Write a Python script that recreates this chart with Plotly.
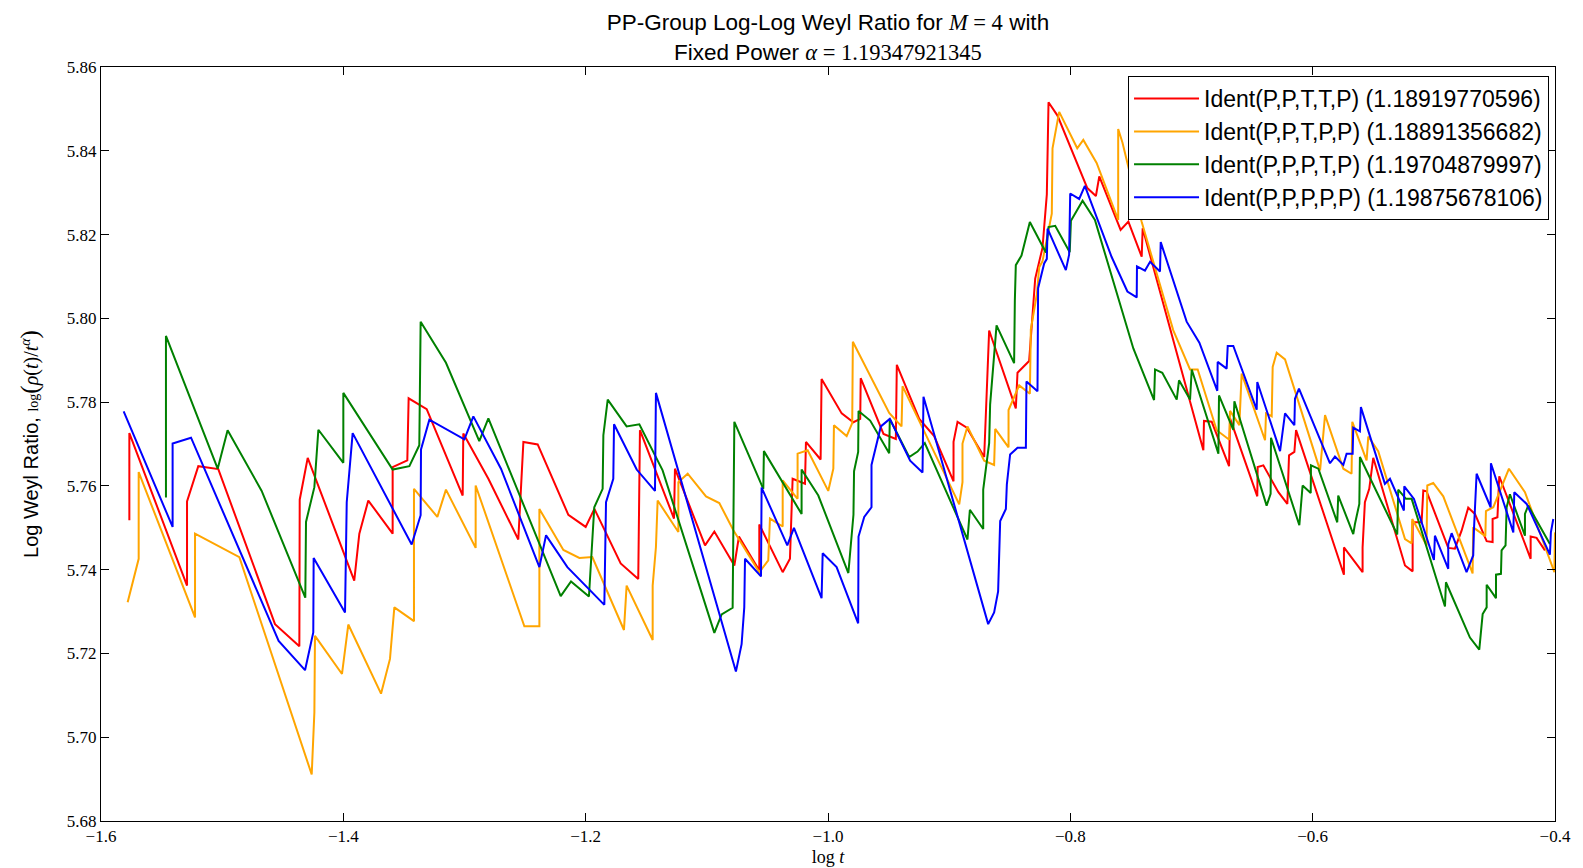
import plotly.graph_objects as go

# %% data (x = log t, y = log Weyl ratio)
red_x = [-1.5766, -1.5766, -1.5290, -1.5290, -1.5197, -1.5032, -1.4564, -1.4363, -1.4360, -1.4294,
         -1.3910, -1.3868, -1.3794, -1.3593, -1.3593, -1.3472, -1.3461, -1.3312, -1.3015, -1.3010,
         -1.2803, -1.2556, -1.2514, -1.2396, -1.2143, -1.2000, -1.1928, -1.1711, -1.1566, -1.1552,
         -1.1271, -1.1263, -1.1015, -1.0938, -1.0773, -1.0735, -1.0567, -1.0567, -1.0374, -1.0314,
         -1.0292, -1.0190, -1.0182, -1.0061, -1.0053, -0.9887, -0.9791, -0.9734, -0.9730, -0.9542,
         -0.9440, -0.9432, -0.9247, -0.9124, -0.8964, -0.8964, -0.8931, -0.8854, -0.8711, -0.8692,
         -0.8670, -0.8450, -0.8436, -0.8340, -0.8290, -0.8230, -0.8194, -0.8180, -0.8106, -0.7860,
         -0.7789, -0.7761, -0.7585, -0.7521, -0.7411, -0.7403, -0.6902, -0.6897, -0.6833, -0.6690,
         -0.6682, -0.6457, -0.6454, -0.6407, -0.6283, -0.6209, -0.6195, -0.6151, -0.6137, -0.5742,
         -0.5742, -0.5588, -0.5588, -0.5569, -0.5533, -0.5500, -0.5238, -0.5175, -0.5175, -0.5101,
         -0.5087, -0.5060, -0.4881, -0.4826, -0.4771, -0.4716, -0.4661, -0.4564, -0.4515, -0.4515,
         -0.4475, -0.4460, -0.4201, -0.4201, -0.4152, -0.4083]
red_y = [5.7518, 5.7726, 5.7362, 5.7563, 5.7647, 5.7640, 5.7270, 5.7217, 5.7567, 5.7667,
         5.7374, 5.7486, 5.7565, 5.7486, 5.7645, 5.7661, 5.7809, 5.7783, 5.7577, 5.7725,
         5.7617, 5.7472, 5.7705, 5.7699, 5.7531, 5.7502, 5.7545, 5.7415, 5.7378, 5.7733,
         5.7522, 5.7641, 5.7458, 5.7491, 5.7410, 5.7479, 5.7398, 5.7508, 5.7394, 5.7426,
         5.7617, 5.7605, 5.7705, 5.7663, 5.7855, 5.7773, 5.7752, 5.7760, 5.7857, 5.7724,
         5.7712, 5.7889, 5.7760, 5.7719, 5.7611, 5.7705, 5.7753, 5.7739, 5.7669, 5.7829,
         5.7971, 5.7785, 5.7870, 5.7898, 5.8095, 5.8168, 5.8296, 5.8516, 5.8484, 5.8311,
         5.8292, 5.8339, 5.8211, 5.8231, 5.8147, 5.8215, 5.7685, 5.7755, 5.7753, 5.7647,
         5.7761, 5.7575, 5.7645, 5.7649, 5.7585, 5.7557, 5.7673, 5.7681, 5.7733, 5.7388,
         5.7453, 5.7394, 5.7453, 5.7561, 5.7593, 5.7667, 5.7410, 5.7396, 5.7513, 5.7513,
         5.7589, 5.7587, 5.7452, 5.7450, 5.7493, 5.7548, 5.7533, 5.7468, 5.7466, 5.7521,
         5.7525, 5.7623, 5.7426, 5.7479, 5.7476, 5.7446]

orange_x = [-1.5780, -1.5689, -1.5689, -1.5224, -1.5224, -1.4858, -1.4261, -1.4239, -1.4234, -1.4011,
            -1.3959, -1.3689, -1.3615, -1.3579, -1.3417, -1.3417, -1.3224, -1.3153, -1.2908, -1.2908,
            -1.2506, -1.2382, -1.2382, -1.2184, -1.2052, -1.1945, -1.1684, -1.1662, -1.1447, -1.1447,
            -1.1420, -1.1406, -1.1235, -1.1235, -1.1158, -1.1007, -1.0897, -1.0781, -1.0567, -1.0493,
            -1.0479, -1.0374, -1.0374, -1.0251, -1.0251, -1.0168, -0.9998, -0.9956, -0.9951, -0.9846,
            -0.9800, -0.9795, -0.9495, -0.9393, -0.9385, -0.8917, -0.8890, -0.8890, -0.8849, -0.8711,
            -0.8629, -0.8620, -0.8510, -0.8510, -0.8422, -0.8334, -0.8326, -0.8276, -0.8257, -0.8230,
            -0.8153, -0.8147, -0.8092, -0.7943, -0.7893, -0.7783, -0.7605, -0.7605, -0.7570, -0.7412,
            -0.7151, -0.7012, -0.6949, -0.6792, -0.6688, -0.6682, -0.6605, -0.6586, -0.6393, -0.6385,
            -0.6338, -0.6330, -0.6297, -0.6228, -0.5939, -0.5898, -0.5747, -0.5679, -0.5673, -0.5555,
            -0.5541, -0.5459, -0.5238, -0.5183, -0.5178, -0.5060, -0.5054, -0.5005, -0.4922, -0.4680,
            -0.4675, -0.4575, -0.4570, -0.4509, -0.4380, -0.4248, -0.4005, -0.4000]
orange_y = [5.7322, 5.7426, 5.7633, 5.7286, 5.7486, 5.7430, 5.6911, 5.7059, 5.7242, 5.7151,
            5.7269, 5.7104, 5.7187, 5.7310, 5.7277, 5.7593, 5.7526, 5.7591, 5.7452, 5.7601,
            5.7265, 5.7265, 5.7545, 5.7447, 5.7428, 5.7430, 5.7256, 5.7362, 5.7232, 5.7362,
            5.7454, 5.7565, 5.7490, 5.7609, 5.7629, 5.7575, 5.7559, 5.7494, 5.7394, 5.7422,
            5.7522, 5.7503, 5.7613, 5.7569, 5.7677, 5.7685, 5.7588, 5.7641, 5.7745, 5.7719,
            5.7750, 5.7944, 5.7774, 5.7742, 5.7838, 5.7556, 5.7609, 5.7701, 5.7742, 5.7660,
            5.7650, 5.7736, 5.7692, 5.7781, 5.7840, 5.7820, 5.7974, 5.8058, 5.8122, 5.8136,
            5.8250, 5.8406, 5.8493, 5.8406, 5.8426, 5.8371, 5.8235, 5.8452, 5.8420, 5.8231,
            5.7972, 5.7878, 5.7878, 5.7733, 5.7710, 5.7779, 5.7745, 5.7868, 5.7709, 5.7773,
            5.7766, 5.7884, 5.7918, 5.7902, 5.7637, 5.7769, 5.7641, 5.7629, 5.7753, 5.7661,
            5.7718, 5.7683, 5.7473, 5.7463, 5.7521, 5.7458, 5.7601, 5.7607, 5.7575, 5.7391,
            5.7501, 5.7480, 5.7540, 5.7549, 5.7641, 5.7585, 5.7394, 5.7489]

green_x = [-1.5464, -1.5464, -1.5037, -1.4955, -1.4674, -1.4314, -1.4308, -1.4239, -1.4206, -1.4000,
           -1.4000, -1.3593, -1.3455, -1.3373, -1.3362, -1.3153, -1.2878, -1.2803, -1.2206, -1.2121,
           -1.1973, -1.1929, -1.1860, -1.1854, -1.1818, -1.1662, -1.1557, -1.1365, -1.0938, -1.0878,
           -1.0787, -1.0773, -1.0534, -1.0529, -1.0218, -1.0218, -1.0080, -0.9832, -0.9790, -0.9785,
           -0.9751, -0.9748, -0.9652, -0.9495, -0.9490, -0.9330, -0.9261, -0.9201, -0.8849, -0.8829,
           -0.8719, -0.8719, -0.8670, -0.8662, -0.8609, -0.8464, -0.8458, -0.8450, -0.8403, -0.8334,
           -0.8202, -0.8180, -0.8125, -0.8005, -0.7995, -0.7899, -0.7797, -0.7480, -0.7309, -0.7301,
           -0.7241, -0.7122, -0.7103, -0.7012, -0.6998, -0.6778, -0.6773, -0.6655, -0.6646, -0.6380,
           -0.6347, -0.6344, -0.6110, -0.6083, -0.6016, -0.6014, -0.5953, -0.5797, -0.5789, -0.5665,
           -0.5651, -0.5615, -0.5610, -0.5302, -0.5294, -0.5230, -0.5183, -0.4908, -0.4900, -0.4702,
           -0.4625, -0.4597, -0.4564, -0.4564, -0.4487, -0.4487, -0.4446, -0.4441, -0.4408, -0.4399,
           -0.4372, -0.4248, -0.4248, -0.4221, -0.4042]
green_y = [5.7572, 5.7958, 5.7641, 5.7733, 5.7588, 5.7333, 5.7514, 5.7597, 5.7734, 5.7655,
           5.7822, 5.7639, 5.7647, 5.7697, 5.7992, 5.7894, 5.7707, 5.7761, 5.7337, 5.7372,
           5.7336, 5.7549, 5.7593, 5.7721, 5.7806, 5.7742, 5.7747, 5.7637, 5.7249, 5.7293,
           5.7309, 5.7753, 5.7593, 5.7683, 5.7533, 5.7639, 5.7577, 5.7392, 5.7531, 5.7635,
           5.7681, 5.7779, 5.7756, 5.7678, 5.7760, 5.7669, 5.7682, 5.7702, 5.7472, 5.7543,
           5.7497, 5.7591, 5.7702, 5.7794, 5.7983, 5.7893, 5.8042, 5.8127, 5.8150, 5.8230,
           5.8157, 5.8218, 5.8221, 5.8158, 5.8233, 5.8281, 5.8235, 5.7928, 5.7805, 5.7878,
           5.7870, 5.7806, 5.7852, 5.7806, 5.7878, 5.7677, 5.7816, 5.7734, 5.7802, 5.7553,
           5.7581, 5.7715, 5.7506, 5.7601, 5.7583, 5.7649, 5.7641, 5.7513, 5.7577, 5.7485,
           5.7509, 5.7557, 5.7669, 5.7484, 5.7591, 5.7569, 5.7569, 5.7312, 5.7370, 5.7238,
           5.7209, 5.7294, 5.7310, 5.7364, 5.7332, 5.7388, 5.7390, 5.7446, 5.7458, 5.7549,
           5.7580, 5.7481, 5.7533, 5.7553, 5.7461]

blue_x = [-1.5813, -1.5409, -1.5409, -1.5257, -1.4534, -1.4316, -1.4248, -1.4245, -1.3986, -1.3972,
          -1.3923, -1.3436, -1.3362, -1.3359, -1.3290, -1.3001, -1.2927, -1.2699, -1.2382, -1.2327,
          -1.2151, -1.1846, -1.1832, -1.1772, -1.1766, -1.1579, -1.1428, -1.1420, -1.0760, -1.0713,
          -1.0691, -1.0685, -1.0553, -1.0548, -1.0336, -1.0281, -1.0053, -1.0044, -0.9929, -0.9751,
          -0.9748, -0.9701, -0.9641, -0.9641, -0.9564, -0.9490, -0.9322, -0.9220, -0.9212, -0.8678,
          -0.8629, -0.8596, -0.8579, -0.8532, -0.8524, -0.8497, -0.8436, -0.8367, -0.8362, -0.8271,
          -0.8266, -0.8216, -0.8194, -0.8188, -0.8037, -0.8010, -0.8001, -0.7927, -0.7880, -0.7660,
          -0.7529, -0.7452, -0.7450, -0.7384, -0.7342, -0.7260, -0.7254, -0.7040, -0.6935, -0.6787,
          -0.6784, -0.6710, -0.6701, -0.6655, -0.6462, -0.6457, -0.6269, -0.6228, -0.6151, -0.6146,
          -0.6113, -0.5857, -0.5816, -0.5747, -0.5720, -0.5670, -0.5665, -0.5610, -0.5602, -0.5404,
          -0.5362, -0.5247, -0.5244, -0.5164, -0.4999, -0.4991, -0.4881, -0.4881, -0.4853, -0.4730,
          -0.4675, -0.4669, -0.4647, -0.4531, -0.4529, -0.4344, -0.4336, -0.4234, -0.4042, -0.4034,
          -0.4014]
blue_y = [5.7778, 5.7502, 5.7701, 5.7715, 5.7230, 5.7160, 5.7250, 5.7428, 5.7298, 5.7561,
          5.7726, 5.7460, 5.7530, 5.7687, 5.7758, 5.7711, 5.7766, 5.7641, 5.7406, 5.7482,
          5.7406, 5.7316, 5.7561, 5.7617, 5.7747, 5.7639, 5.7588, 5.7822, 5.7157, 5.7222,
          5.7310, 5.7426, 5.7384, 5.7596, 5.7458, 5.7500, 5.7332, 5.7439, 5.7406, 5.7272,
          5.7479, 5.7526, 5.7549, 5.7650, 5.7742, 5.7760, 5.7660, 5.7632, 5.7813, 5.7270,
          5.7298, 5.7348, 5.7516, 5.7545, 5.7603, 5.7675, 5.7691, 5.7691, 5.7849, 5.7826,
          5.8072, 5.8131, 5.8142, 5.8214, 5.8115, 5.8152, 5.8298, 5.8285, 5.8316, 5.8147,
          5.8064, 5.8050, 5.8124, 5.8114, 5.8135, 5.8112, 5.8182, 5.7992, 5.7942, 5.7827,
          5.7896, 5.7880, 5.7934, 5.7934, 5.7782, 5.7848, 5.7683, 5.7773, 5.7745, 5.7808,
          5.7832, 5.7654, 5.7670, 5.7650, 5.7677, 5.7677, 5.7739, 5.7730, 5.7788, 5.7605,
          5.7617, 5.7541, 5.7599, 5.7569, 5.7423, 5.7481, 5.7402, 5.7461, 5.7487, 5.7394,
          5.7434, 5.7495, 5.7629, 5.7549, 5.7654, 5.7489, 5.7585, 5.7557, 5.7436, 5.7489,
          5.7521]

series_names = [
    "Ident(P,P,T,T,P) (1.18919770596)",
    "Ident(P,P,T,P,P) (1.18891356682)",
    "Ident(P,P,P,T,P) (1.19704879997)",
    "Ident(P,P,P,P,P) (1.19875678106)",
]
series_colors = ["#ff0000", "#ffa500", "#008000", "#0000ff"]

x_ticks = [-1.6, -1.4, -1.2, -1.0, -0.8, -0.6, -0.4]
y_ticks = [5.68, 5.70, 5.72, 5.74, 5.76, 5.78, 5.80, 5.82, 5.84, 5.86]

SANS = "Liberation Sans, Arial, sans-serif"
SERIF = "Liberation Serif, DejaVu Serif, serif"


# %%
def weyl_line(x, y, name, color, group):
    return go.Scatter(
        x=x,
        y=y,
        name=name,
        mode="lines",
        line=dict(color=color, width=2),
        legendgroup=group,
    )


# %%
fig = go.Figure()
data = [(red_x, red_y), (orange_x, orange_y), (green_x, green_y), (blue_x, blue_y)]
for i, (xs, ys) in enumerate(data):
    fig.add_trace(weyl_line(xs, ys, series_names[i], series_colors[i], f"g{i}"))

math = f"<span style='font-family:{SERIF}'>"
title_text = (
    f"PP-Group Log-Log Weyl Ratio for {math}<i>M</i> = 4</span> with<br>"
    f"Fixed Power {math}<i>α</i> = 1.19347921345</span>"
)

axis_common = dict(
    showline=True,
    linecolor="black",
    linewidth=1,
    mirror="allticks",
    ticks="inside",
    ticklen=8,
    tickcolor="black",
    showgrid=False,
    zeroline=False,
    automargin=False,
    tickfont=dict(family=SERIF, size=17, color="black"),
)

fig.update_layout(
    width=1583,
    height=868,
    margin=dict(l=101, r=28, t=67, b=47),
    paper_bgcolor="white",
    plot_bgcolor="white",
    title=dict(
        text=title_text,
        x=0.523,
        xanchor="center",
        y=0.965,
        yanchor="top",
        font=dict(family=SANS, size=22.5, color="black"),
    ),
    xaxis=dict(
        range=[-1.6, -0.4],
        tickvals=x_ticks,
        ticktext=[f"\u2212{abs(v):.1f}" for v in x_ticks],
        title=dict(
            text=f"{math}log <i>t</i></span>",
            font=dict(family=SERIF, size=18, color="black"),
            standoff=4,
        ),
        **axis_common,
    ),
    yaxis=dict(
        range=[5.68, 5.86],
        tickvals=y_ticks,
        ticktext=[f"{v:.2f}" for v in y_ticks],
        title=dict(
            text=f"Log Weyl Ratio, {math}<span style='font-size:14px'>log</span>"
                 f"<span style='font-size:25px'>(</span><i>ρ</i>(<i>t</i>)/<i>t</i><sup><i>α</i></sup>"
                 f"<span style='font-size:25px'>)</span></span>",
            font=dict(family=SANS, size=20, color="black"),
            standoff=22,
        ),
        **axis_common,
    ),
    legend=dict(
        x=0.9959,
        y=0.988,
        xanchor="right",
        yanchor="top",
        bgcolor="white",
        bordercolor="black",
        borderwidth=1,
        font=dict(family=SANS, size=23, color="black"),
        tracegroupgap=0,
        itemwidth=65,
    ),
    showlegend=True,
)

# the page's default body margin would shift the figure by 8px
fig.write_html(
    "out.html",
    config={"displayModeBar": False},
    post_script="document.body.style.margin='0';",
)
